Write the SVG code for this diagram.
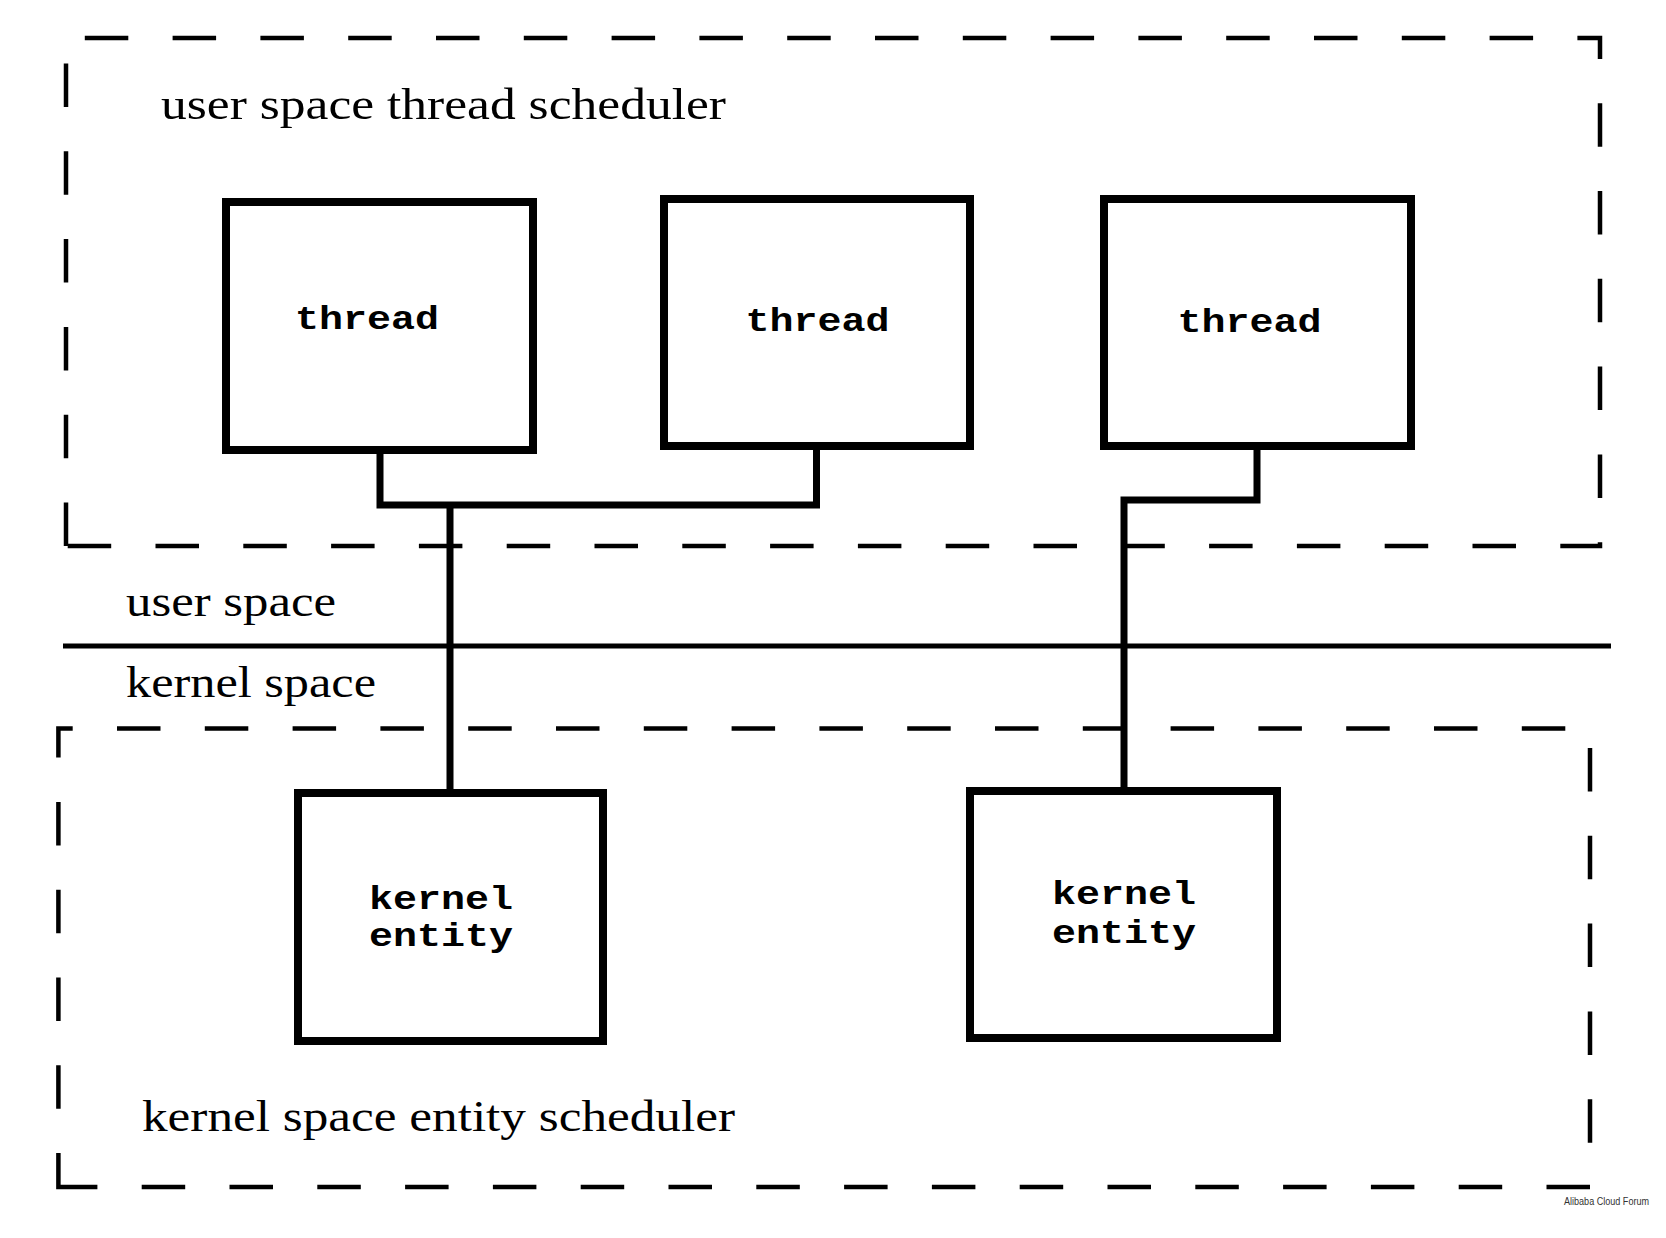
<svg xmlns="http://www.w3.org/2000/svg" width="1666" height="1238" viewBox="0 0 1666 1238">
<style>
.dash{fill:none;stroke:#000;stroke-width:4.5;stroke-dasharray:43.5 44.3;stroke-linejoin:miter}
.sep{stroke:#000;stroke-width:5}
.box{fill:#fff;stroke:#000;stroke-width:8}
.conn{fill:none;stroke:#000;stroke-width:7;stroke-linejoin:miter}
.lbl{font-family:"Liberation Serif","Times New Roman",serif;font-size:45px;fill:#000}
.mono{font-family:"Liberation Mono","Courier New",monospace;font-size:33px;font-weight:bold;fill:#000}
.wm{font-family:"Liberation Sans",Arial,sans-serif;font-size:10px;fill:#333}
</style>
<rect width="1666" height="1238" fill="#fff"/>
<g id="user-scheduler">
<path class="dash" d="M66,546 V38 H1600 V546 Z"/>
<text class="lbl" x="161" y="119" textLength="565" lengthAdjust="spacingAndGlyphs">user space thread scheduler</text>
</g>
<g id="kernel-scheduler">
<path class="dash" style="stroke-dashoffset:9.6" d="M58.4,1187 V728.4 H1590 V1187 Z"/>
<text class="lbl" x="142" y="1131" textLength="593" lengthAdjust="spacingAndGlyphs">kernel space entity scheduler</text>
</g>
<g id="boundary">
<line class="sep" x1="63" y1="646" x2="1611" y2="646"/>
<text class="lbl" x="126" y="616" textLength="210" lengthAdjust="spacingAndGlyphs">user space</text>
<text class="lbl" x="126" y="697" textLength="250" lengthAdjust="spacingAndGlyphs">kernel space</text>
</g>
<g id="connectors">
<path class="conn" d="M380,450 V505 H816.5 V446"/>
<path class="conn" d="M450,505 V793"/>
<path class="conn" d="M1257,446 V500 H1124 V791"/>
</g>
<g id="thread1">
<rect class="box" x="226" y="202" width="307" height="248"/>
<text class="mono" x="295" y="329" textLength="144" lengthAdjust="spacingAndGlyphs">thread</text>
</g>
<g id="thread2">
<rect class="box" x="664" y="199" width="306" height="247"/>
<text class="mono" x="745.5" y="330.5" textLength="144" lengthAdjust="spacingAndGlyphs">thread</text>
</g>
<g id="thread3">
<rect class="box" x="1104" y="199" width="307" height="247"/>
<text class="mono" x="1177.5" y="331.5" textLength="144" lengthAdjust="spacingAndGlyphs">thread</text>
</g>
<g id="kernel-entity1">
<rect class="box" x="298" y="793" width="305" height="248"/>
<text class="mono" x="369" y="909" textLength="144" lengthAdjust="spacingAndGlyphs">kernel</text>
<text class="mono" x="369" y="946" textLength="144" lengthAdjust="spacingAndGlyphs">entity</text>
</g>
<g id="kernel-entity2">
<rect class="box" x="970" y="791" width="307" height="247"/>
<text class="mono" x="1052" y="904" textLength="144" lengthAdjust="spacingAndGlyphs">kernel</text>
<text class="mono" x="1052" y="943" textLength="144" lengthAdjust="spacingAndGlyphs">entity</text>
</g>
<text class="wm" x="1564" y="1205" textLength="85" lengthAdjust="spacingAndGlyphs">Alibaba Cloud Forum</text>
</svg>
